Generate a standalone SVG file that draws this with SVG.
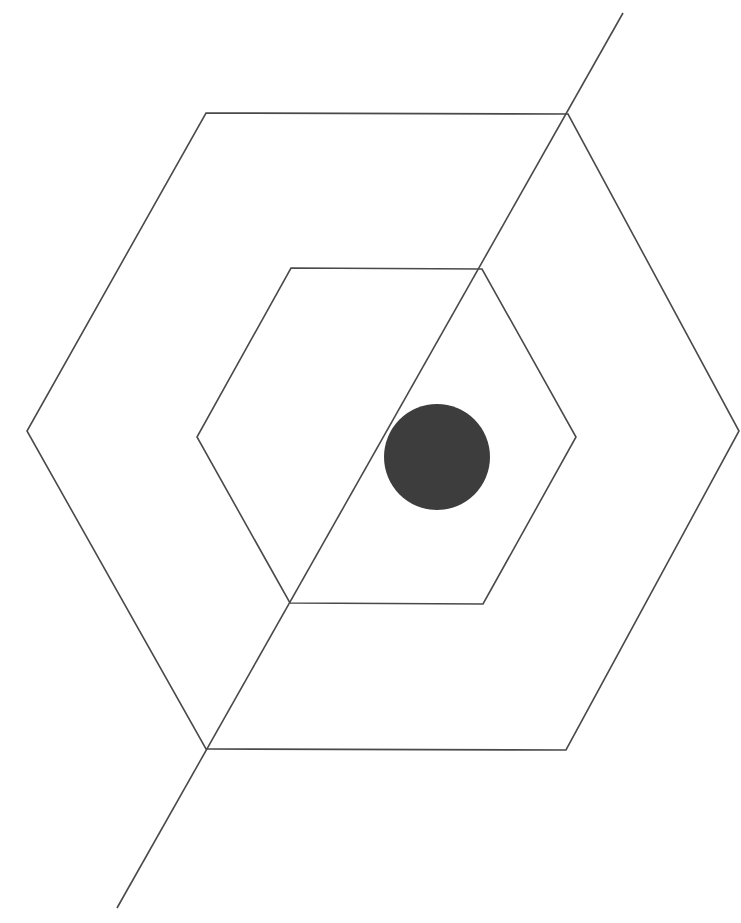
<svg xmlns="http://www.w3.org/2000/svg" width="741" height="923" viewBox="0 0 741 923">
<style>
.ln{fill:none;stroke:#4a4a4a;stroke-width:1.6;stroke-linejoin:miter}
.dot{fill:#3d3d3d}
</style>
<rect width="741" height="923" fill="#ffffff"/>
<g id="outer-hexagon"><polygon class="ln" points="206,113 568,114 739,431 566,750 206,749 27,431"/></g>
<g id="inner-hexagon"><polygon class="ln" points="291,268 482,269 576,437 483,604 290,603 197,437"/></g>
<g id="dot"><circle class="dot" cx="437" cy="457" r="53"/></g>
<g id="connectors"><line class="ln" x1="623" y1="13" x2="117" y2="908"/></g>
</svg>
